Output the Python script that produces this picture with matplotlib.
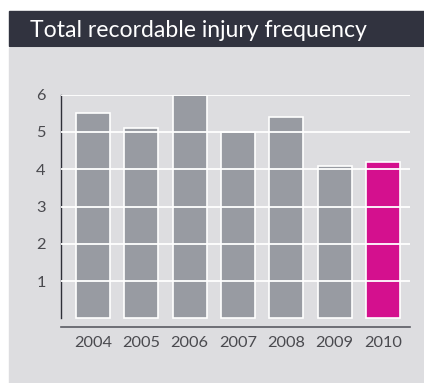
import matplotlib
matplotlib.use("Agg")
import matplotlib.pyplot as plt
from matplotlib.patches import Rectangle

years = ["2004", "2005", "2006", "2007", "2008", "2009", "2010"]
trif = [5.5, 5.1, 6.0, 5.0, 5.4, 4.1, 4.2]
yticks = [1, 2, 3, 4, 5, 6]

W, H = 424, 383
GREY_BAR = "#989ba2"
PINK = "#d4108e"
PANEL = "#dddde0"
HEADER = "#31333f"
TEXT = "#4a4a4f"

plt.rcParams["font.family"] = ["Lato", "DejaVu Sans"]

fig = plt.figure(figsize=(W / 100, H / 100), dpi=100)
fig.patch.set_facecolor("white")

# header strip and grey panel, in pixel units
def px_rect(x0, y0, x1, y1, color):
    fig.patches.append(Rectangle((x0 / W, 1 - y1 / H), (x1 - x0) / W, (y1 - y0) / H,
                                 transform=fig.transFigure, color=color, zorder=-5))

px_rect(9, 11, W, 46, HEADER)
px_rect(9, 48, W, H, PANEL)
fig.text(30 / W, 1 - 37 / H, "Total recordable injury frequency", color="white",
         fontsize=16.6, ha="left", va="baseline")

ax = fig.add_axes([61 / W, 1 - 326.7 / H, 349 / W, (326.7 - 94.7) / H])
ax.set_facecolor("none")

colors = [GREY_BAR] * (len(years) - 1) + [PINK]
x = list(range(len(years)))
ax.bar(x, trif, width=0.70, color=colors, edgecolor="white", linewidth=1.2, zorder=1)

ax.set_xlim(-0.662, 6.558)
ax.set_ylim(-0.22, 6.0)
ax.set_yticks(yticks)
ax.set_xticks(x)
ax.set_xticklabels(years)
ax.yaxis.grid(True, color="white", linewidth=1.3)
ax.set_axisbelow(False)

for s in ["top", "right"]:
    ax.spines[s].set_visible(False)
ax.spines["left"].set_bounds(0, 6)
ax.spines["left"].set_color("#2e2f38")
ax.spines["left"].set_linewidth(1.0)
ax.spines["bottom"].set_color("#5a5b62")
ax.spines["bottom"].set_linewidth(1.2)

ax.tick_params(axis="both", length=0, labelcolor=TEXT, labelsize=11.8)
ax.tick_params(axis="y", pad=11)
ax.tick_params(axis="x", pad=6.5)

fig.savefig("out.png", dpi=100)
